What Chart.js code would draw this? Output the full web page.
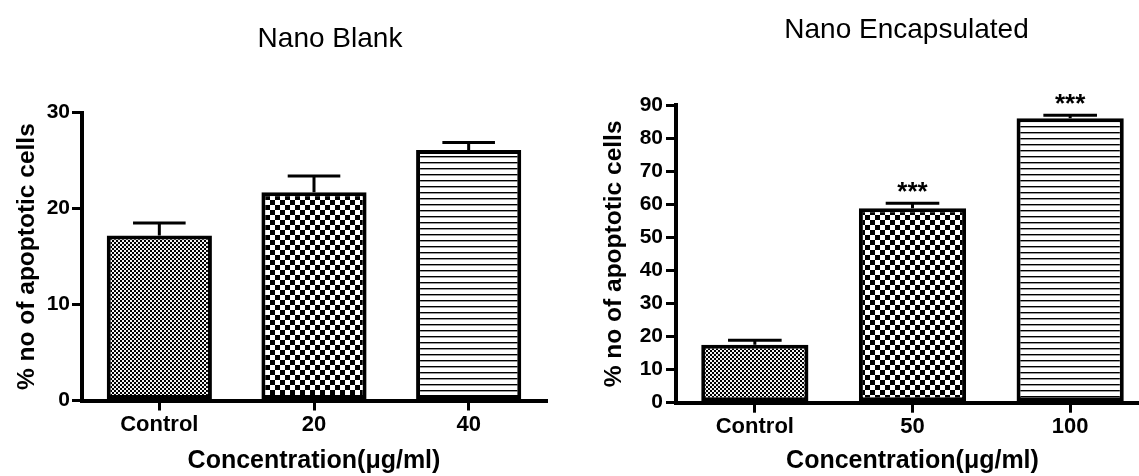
<!DOCTYPE html>
<html><head><meta charset="utf-8">
<script src="https://cdn.jsdelivr.net/npm/chart.js@4.4.1/dist/chart.umd.min.js"></script>
<style>
html,body{margin:0;padding:0;background:#fff;overflow:hidden;width:1139px;height:476px;position:relative}
#c1{position:absolute;left:0;top:0}
#c2{position:absolute;left:580px;top:0}
</style></head><body>
<canvas id="c1" width="560" height="476"></canvas>
<canvas id="c2" width="569" height="476"></canvas>
<script>
// ---- data ----
const blankTitle = 'Nano Blank';
const blankCategories = ['Control', '20', '40'];
const blankValues = [17.2, 21.7, 26.1];
const blankErrors = [1.3, 1.7, 0.8];
const blankSignif = ['', '', ''];

const encTitle = 'Nano Encapsulated';
const encCategories = ['Control', '50', '100'];
const encValues = [17.5, 58.8, 86.0];
const encErrors = [1.4, 1.5, 0.9];
const encSignif = ['', '***', '***'];

const xAxisTitle = 'Concentration(\u03bcg/ml)';
const yAxisTitle = '% no of apoptotic cells';

// ---- styles ----
const FONT = '"Liberation Sans", Arial, sans-serif';
Chart.defaults.font.family = FONT;
Chart.defaults.color = '#000';

function checker(cell, light) {
  const c = document.createElement('canvas');
  c.width = c.height = cell * 2;
  const x = c.getContext('2d');
  x.fillStyle = light || '#fff'; x.fillRect(0, 0, cell * 2, cell * 2);
  x.fillStyle = '#000';
  x.fillRect(0, 0, cell, cell);
  x.fillRect(cell, cell, cell, cell);
  return x.createPattern(c, 'repeat');
}
function hlines() {
  const c = document.createElement('canvas');
  c.width = 4; c.height = 6;
  const x = c.getContext('2d');
  x.fillStyle = '#fff'; x.fillRect(0, 0, 4, 6);
  x.fillStyle = '#000'; x.fillRect(0, 0, 4, 1);
  x.fillStyle = '#9a9a9a'; x.fillRect(0, 1, 4, 1);
  return x.createPattern(c, 'repeat');
}

const panelPlugin = {
  id: 'panel',
  afterDatasetsDraw(chart) {
    const ds = chart.data.datasets[0];
    const meta = chart.getDatasetMeta(0);
    const ys = chart.scales.y;
    const ctx = chart.ctx;
    ctx.save();
    meta.data.forEach((bar, i) => {
      const top = ys.getPixelForValue(ds.data[i] + ds.errors[i]);
      const half = bar.width / 4;
      ctx.strokeStyle = '#000';
      ctx.lineWidth = 3;
      ctx.beginPath();
      ctx.moveTo(bar.x, bar.y);
      ctx.lineTo(bar.x, top);
      ctx.moveTo(bar.x - half, top);
      ctx.lineTo(bar.x + half, top);
      ctx.stroke();
      const s = ds.signif[i];
      if (s) {
        ctx.font = 'bold 26px ' + FONT;
        ctx.fillStyle = '#000';
        ctx.textAlign = 'center';
        ctx.textBaseline = 'alphabetic';
        ctx.fillText(s, bar.x, top - 3);
      }
    });
    ctx.restore();
  },
  afterDraw(chart, args, opts) {
    const ctx = chart.ctx;
    ctx.save();
    ctx.font = '28px ' + FONT;
    ctx.fillStyle = '#000';
    ctx.textAlign = 'center';
    ctx.textBaseline = 'alphabetic';
    ctx.fillText(opts.text, opts.x, opts.y);
    ctx.restore();
  }
};

function makeChart(id, cfg) {
  return new Chart(document.getElementById(id), {
    type: 'bar',
    data: {
      labels: cfg.categories,
      datasets: [{
        data: cfg.values,
        errors: cfg.errors,
        signif: cfg.signif,
        backgroundColor: [checker(2, '#f4f4f4'), checker(5), hlines()],
        borderColor: '#000',
        borderWidth: 4,
        borderSkipped: false,
        categoryPercentage: 0.68,
        barPercentage: 1
      }]
    },
    options: {
      responsive: false,
      animation: false,
      layout: { padding: { top: cfg.padTop, right: cfg.padRight, left: 0, bottom: 0 } },
      plugins: {
        legend: { display: false },
        tooltip: { enabled: false },
        panel: { text: cfg.title, x: cfg.titleX, y: cfg.titleY }
      },
      scales: {
        x: {
          afterFit: s => { s.height = cfg.xHeight; },
          grid: { offset: false, drawOnChartArea: false, drawTicks: true, tickLength: 10, lineWidth: 3, color: '#000' },
          border: { display: true, width: 4, color: '#000' },
          ticks: { font: { size: 22, weight: 'bold' }, color: '#000', padding: 1, maxRotation: 0, autoSkip: false },
          title: { display: true, text: xAxisTitle, font: { size: 25, weight: 'bold' }, color: '#000', padding: { top: 0, bottom: 0 } }
        },
        y: {
          min: 0, max: cfg.yMax,
          afterFit: s => { s.width = cfg.yWidth; },
          grid: { drawOnChartArea: false, drawTicks: true, tickLength: 10, lineWidth: 3, color: '#000' },
          border: { display: true, width: 4, color: '#000' },
          ticks: { stepSize: 10, font: { size: 21, weight: 'bold' }, color: '#000', padding: cfg.yTickPad },
          title: { display: true, text: yAxisTitle, font: { size: 24.5, weight: 'bold' }, color: '#000', padding: { top: cfg.yTitlePad, bottom: 0 } }
        }
      }
    },
    plugins: [panelPlugin]
  });
}

makeChart('c1', {
  categories: blankCategories, values: blankValues, errors: blankErrors, signif: blankSignif,
  yMax: 30, title: blankTitle, titleX: 330, titleY: 47,
  padTop: 112.7, padRight: 14, xHeight: 75.5, yWidth: 82, yTitlePad: 13, yTickPad: 2
});
makeChart('c2', {
  categories: encCategories, values: encValues, errors: encErrors, signif: encSignif,
  yMax: 90, title: encTitle, titleX: 326.5, titleY: 38,
  padTop: 105, padRight: 0, xHeight: 73.3, yWidth: 96, yTitlePad: 20, yTickPad: 3
});
</script>
</body></html>
